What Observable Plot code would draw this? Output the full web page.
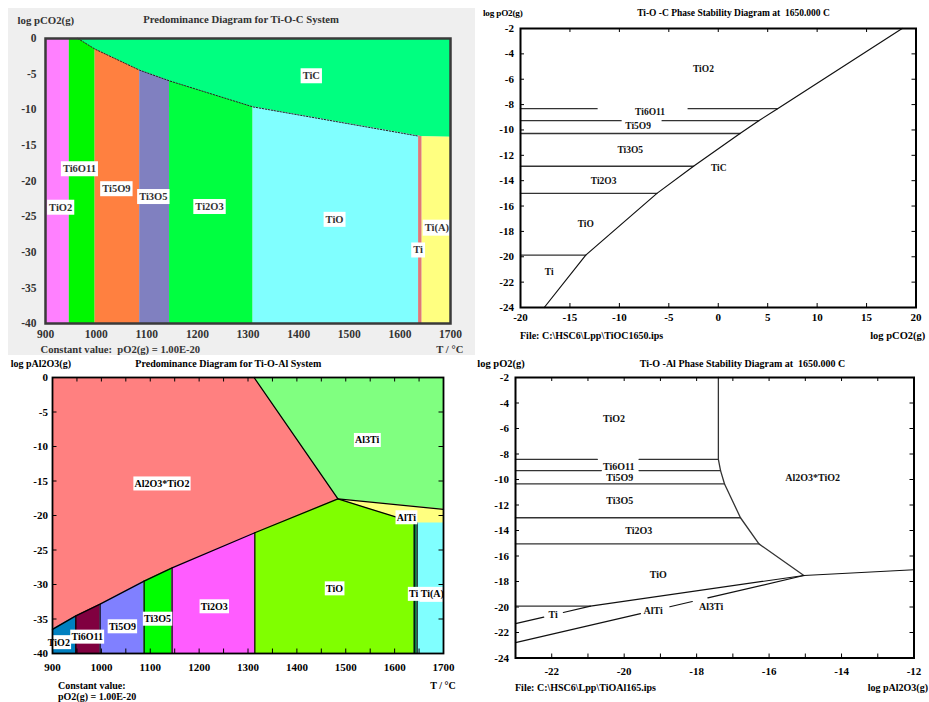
<!DOCTYPE html>
<html>
<head>
<meta charset="utf-8">
<script src="https://cdn.jsdelivr.net/npm/d3@7"></script>
<script src="https://cdn.jsdelivr.net/npm/@observablehq/plot@0.6"></script>
<style>
  body { margin: 0; background: #fff; }
  #page { position: relative; width: 929px; height: 702px; overflow: hidden;
          font-family: "Liberation Serif", "Times New Roman", serif; font-weight: bold; }
  #page .lbl { position: absolute; white-space: pre; line-height: 1; }
  #page svg { position: absolute; }
  #page svg text { font-family: "Liberation Serif", "Times New Roman", serif; font-weight: bold; }
</style>
</head>
<body>
<div id="page"></div>
<script>
// ===== Ti-O-C predominance diagram (log pCO2 vs T, pO2(g) = 1.00E-20) =====
const tocTickT = [900, 1000, 1100, 1200, 1300, 1400, 1500, 1600, 1700];
const tocTickLog = [0, -5, -10, -15, -20, -25, -30, -35, -40];
// lower edge of the TiC field
const ticEdgeT   = [900, 947, 964, 998, 1086, 1145, 1310, 1637, 1644, 1700];
const ticEdgeLog = [0, 0, 0, -1.5, -4.45, -5.95, -9.6, -13.7, -13.8, -13.85];
// condensed phases under the TiC field
const tocPhase     = ["TiO2", "Ti6O11", "Ti5O9", "Ti3O5", "Ti2O3", "TiO", "Ti", "Ti(A)"];
const tocPhaseFrom = [900, 947, 998, 1086, 1145, 1310, 1637, 1644];
const tocPhaseTo   = [947, 998, 1086, 1145, 1310, 1637, 1644, 1700];
const tocLabel    = ["TiO2", "Ti6O11", "Ti5O9", "Ti3O5", "Ti2O3", "TiO", "Ti(A)", "Ti", "TiC"];
const tocLabelT   = [930, 967, 1040, 1113, 1224, 1471, 1673, 1636, 1425];
const tocLabelLog = [-23.7, -18.3, -21.1, -22.2, -23.6, -25.4, -26.5, -29.7, -5.25];

// ===== Ti-O-C phase stability at 1650 C (log pO2 vs log pCO2) =====
const tocStabTickX = [-20, -15, -10, -5, 0, 5, 10, 15, 20];
const tocStabTickY = [-2, -4, -6, -8, -10, -12, -14, -16, -18, -20, -22, -24];
// TiC boundary
const ticLineX = [-17.6, -13.4, -6.2, -2.5, 2.2, 4.1, 6.0, 18.6];
const ticLineY = [-24, -19.87, -15.0, -12.86, -10.28, -9.27, -8.32, -2];
// oxide / oxide boundaries (log pO2), their right ends, and label breaks
const tocOxideY     = [-8.32, -9.27, -10.28, -12.86, -15.0, -19.87];
const tocOxideToX   = [6.0, 4.1, 2.2, -2.5, -6.2, -13.4];
const tocOxideGap   = [[[-12.25, -3.05]], [[-9.82, -5.68]], [], [], [], []];
const tocStabLabel  = ["TiO2", "Ti6O11", "Ti5O9", "Ti3O5", "TiC", "Ti2O3", "TiO", "Ti"];
const tocStabLabelX = [-1.5, -6.9, -8.1, -8.9, 0.05, -11.6, -13.4, -17.1];
const tocStabLabelY = [-5.2, -8.55, -9.72, -11.6, -12.96, -14.0, -17.4, -21.2];

// ===== Ti-O-Al predominance diagram (log pAl2O3 vs T, pO2(g) = 1.00E-20) =====
const toaTickT = [900, 1000, 1100, 1200, 1300, 1400, 1500, 1600, 1700];
const toaMinorT = [900, 950, 1000, 1050, 1100, 1150, 1200, 1250, 1300, 1350, 1400, 1450, 1500, 1550, 1600, 1650, 1700];
const toaTickLog = [0, -5, -10, -15, -20, -25, -30, -35, -40];
// lower edge of the Al2O3*TiO2 field
const spinelEdgeT   = [900, 947.7, 997.4, 1087.5, 1144.7, 1314, 1484];
const spinelEdgeLog = [-36.5, -34.55, -32.85, -29.5, -27.6, -22.5, -17.6];
// lower edge of the Al3Ti field
const al3TiEdgeT   = [1312.5, 1484, 1700];
const al3TiEdgeLog = [0, -17.6, -19.1];
// lower edge of the AlTi field
const alTiEdgeT   = [1484, 1640, 1646, 1700];
const alTiEdgeLog = [-17.6, -21.05, -21.1, -21.1];
const toaOxide     = ["TiO2", "Ti6O11", "Ti5O9", "Ti3O5", "Ti2O3"];
const toaOxideFrom = [900, 947.7, 997.4, 1087.5, 1144.7];
const toaOxideTo   = [947.7, 997.4, 1087.5, 1144.7, 1314];
const toaLabel    = ["Al2O3*TiO2", "Al3Ti", "AlTi", "TiO", "Ti2O3", "Ti3O5", "Ti5O9", "Ti6O11", "TiO2", "Ti", "Ti(A)"];
const toaLabelT   = [1124, 1544, 1624, 1477, 1231, 1115, 1043, 971, 913, 1639, 1677];
const toaLabelLog = [-15.4, -9.1, -20.3, -30.6, -33.2, -35.0, -36.1, -37.6, -38.4, -31.4, -31.4];

// ===== Ti-O-Al phase stability at 1650 C (log pO2 vs log pAl2O3) =====
const toaStabTickX = [-22, -20, -18, -16, -14, -12];
const toaStabMinorX = [-23, -22, -21, -20, -19, -18, -17, -16, -15, -14, -13, -12];
const toaStabTickY = [-2, -4, -6, -8, -10, -12, -14, -16, -18, -20, -22, -24];
// TiO2 / Al2O3*TiO2 boundary down to the triple point
const spinelLineX = [-17.4, -17.4, -17.34, -17.23, -16.79, -16.28, -15.04];
const spinelLineY = [-2, -8.42, -9.3, -10.35, -13.0, -15.05, -17.53];
// Al2O3*TiO2 / Al3Ti boundary right of the triple point
const al3TiLineX = [-15.04, -12];
const al3TiLineY = [-17.53, -17.08];
// Ti, TiO / AlTi boundary
const alTiLineX = [-23, -20.93, -15.04];
const alTiLineY = [-21.31, -19.93, -17.53];
const alTiLineGap = [[-22.22, -21.68]];
// AlTi / Al3Ti boundary
const alTiAl3TiX = [-23, -15.04];
const alTiAl3TiY = [-22.8, -17.53];
const alTiAl3TiGap = [[-19.55, -18.74], [-18.12, -17.69]];
// oxide / oxide boundaries (log pO2), right ends, label breaks
const toaOxideY    = [-8.42, -9.3, -10.35, -13.0, -15.05, -19.93];
const toaOxideToX  = [-17.4, -17.34, -17.23, -16.79, -16.28, -20.93];
const toaOxideGap  = [[[-20.74, -19.59]], [[-20.63, -19.59]], [], [], [], []];
const toaStabLabel  = ["TiO2", "Ti6O11", "Ti5O9", "Ti3O5", "Ti2O3", "Al2O3*TiO2", "TiO", "Ti", "AlTi", "Al3Ti"];
const toaStabLabelX = [-20.28, -20.15, -20.12, -20.12, -19.6, -14.8, -19.06, -21.96, -19.2, -17.6];
const toaStabLabelY = [-5.2, -8.97, -9.85, -11.66, -14.0, -9.85, -17.47, -20.6, -20.27, -19.96];

// ---------- styling ----------
const serif = '"Liberation Serif", "Times New Roman", serif';
const tocColors = ["#ff80ff", "#00f800", "#ff8040", "#8080c0", "#00ff40", "#80ffff", "#e07878", "#ffff80"];
const ticColor = "#00ff80";
const toaOxideColors = ["#0080c0", "#800040", "#8080ff", "#00ff00", "#ff5cff"];
const toaColor = {spinel: "#ff8080", al3Ti: "#80ff80", alTi: "#ffff80", tiO: "#80ff00", ti: "#008040", tiA: "#80ffff"};

const page = document.getElementById("page");
const W = 929;

// helpers
const pts = (xs, ys) => xs.map((T, i) => ({T, v: ys[i]}));
const within = (p, a, b) => p.filter(d => d.T >= a && d.T <= b);
const valueAt = (p, T) => p.find(d => d.T === T).v;
const labels = (names, xs, ys) => names.map((text, i) => ({text, x: xs[i], y: ys[i]}));

// split a polyline (monotonic in x) into drawn pieces, leaving breaks for labels
function pieces(xs, ys, gaps, id) {
  const yAt = x => {
    for (let i = 1; i < xs.length; i++) {
      const a = xs[i - 1], b = xs[i];
      if (a !== b && x >= Math.min(a, b) && x <= Math.max(a, b))
        return ys[i - 1] + (ys[i] - ys[i - 1]) * (x - a) / (b - a);
    }
    return ys[ys.length - 1];
  };
  const cuts = [Math.min(...xs), ...gaps.flat(), Math.max(...xs)];
  const out = [];
  for (let k = 0; k < cuts.length; k += 2) {
    const a = cuts[k], b = cuts[k + 1], z = id + "-" + k;
    out.push({x: a, y: yAt(a), z});
    xs.forEach((x, i) => { if (x > a && x < b) out.push({x, y: ys[i], z}); });
    out.push({x: b, y: yAt(b), z});
  }
  return out;
}

function text(str, x, y, {anchor = "start", size = 10, color = "#000", spacing = 0} = {}) {
  const d = document.createElement("div");
  d.className = "lbl";
  d.textContent = str;
  d.style.fontSize = size + "px";
  d.style.color = color;
  d.style.letterSpacing = spacing + "px";
  d.style.top = y + "px";
  if (anchor === "start") { d.style.left = x + "px"; d.style.transform = "translateY(-50%)"; }
  else if (anchor === "end") { d.style.right = (W - x) + "px"; d.style.transform = "translateY(-50%)"; }
  else { d.style.left = x + "px"; d.style.transform = "translate(-50%,-50%)"; }
  page.appendChild(d);
}

function place(svg, left, top) {
  svg.style.left = left + "px";
  svg.style.top = top + "px";
  page.appendChild(svg);
  return svg;
}

// white boxes behind field labels
function boxLabels(svg, padX, padY) {
  svg.querySelectorAll('g[aria-label="text"] text').forEach(t => {
    const b = t.getBBox();
    const r = document.createElementNS("http://www.w3.org/2000/svg", "rect");
    r.setAttribute("x", b.x - padX);
    r.setAttribute("y", b.y - padY);
    r.setAttribute("width", b.width + 2 * padX);
    r.setAttribute("height", b.height + 2 * padY);
    r.setAttribute("fill", "#fff");
    const tr = t.getAttribute("transform");
    if (tr) r.setAttribute("transform", tr);
    t.parentNode.insertBefore(r, t);
  });
}

const fmt = d => String(d);
const baseStyle = (size, color) => ({background: "transparent", overflow: "visible",
  fontFamily: serif, fontWeight: "bold", fontSize: size + "px", color});
const axisText = {fontFamily: serif, fontWeight: "bold"};

// inward tick marks on all four sides
function innerTicks(xt, yt, innerW, innerH, len) {
  return [
    Plot.ruleX(xt, {insetTop: innerH - len, strokeWidth: 1}),
    Plot.ruleX(xt, {insetBottom: innerH - len, strokeWidth: 1}),
    Plot.ruleY(yt, {insetRight: innerW - len, strokeWidth: 1}),
    Plot.ruleY(yt, {insetLeft: innerW - len, strokeWidth: 1})
  ];
}

// ---------- panel 1: Ti-O-C predominance ----------
const panelBg = document.createElement("div");
Object.assign(panelBg.style, {position: "absolute", left: "8px", top: "8px", width: "467px", height: "347px", background: "#efefef"});
page.appendChild(panelBg);

const ticEdge = pts(ticEdgeT, ticEdgeLog);
const p1 = Plot.plot({
  width: 470, height: 345,
  marginLeft: 45, marginRight: 20, marginTop: 38, marginBottom: 22,
  x: {domain: [900, 1700]},
  y: {domain: [-40, 0]},
  style: baseStyle(11.5, "#333"),
  marks: [
    Plot.area(ticEdge, {x1: "T", y1: "v", y2: 0, fill: ticColor}),
    ...tocPhase.map((name, i) =>
      Plot.area(within(ticEdge, tocPhaseFrom[i], tocPhaseTo[i]), {x1: "T", y1: -40, y2: "v", fill: tocColors[i]})),
    Plot.line(within(ticEdge, 964, 1637), {x: "T", y: "v", stroke: "#222", strokeWidth: 1, strokeDasharray: "1.5 1.5"}),
    Plot.text(labels(tocLabel, tocLabelT, tocLabelLog), {x: "x", y: "y", text: "text", fontSize: 10.5, fill: "#333", ...axisText}),
    Plot.axisX(tocTickT, {tickSize: 0, tickPadding: 6, tickFormat: fmt, label: null, ...axisText}),
    Plot.axisY(tocTickLog, {tickSize: 0, tickPadding: 9, tickFormat: fmt, label: null, ...axisText}),
    Plot.frame({stroke: "#3a3a3a", strokeWidth: 2.5})
  ]
});
place(p1, 0, 0);
boxLabels(p1, 2, 2);

text("log pCO2(g)", 17.5, 19.5, {size: 10.8, color: "#333"});
text("Predominance Diagram for Ti-O-C System", 241, 19, {anchor: "middle", size: 10.7, color: "#333"});
text("Constant value:  pO2(g) = 1.00E-20", 40.5, 349.5, {size: 10.6, color: "#333"});
text("T / °C", 463.3, 349.5, {anchor: "end", size: 10.6, color: "#333"});

// ---------- panel 2: Ti-O-C stability at 1650 C ----------
const tocOxideLines = tocOxideY.flatMap((y, i) => pieces([-20, tocOxideToX[i]], [y, y], tocOxideGap[i], "o" + i));
const p2 = Plot.plot({
  width: 459, height: 345,
  marginLeft: 50, marginRight: 13.5, marginTop: 28, marginBottom: 38,
  x: {domain: [-20, 20]},
  y: {domain: [-24, -2]},
  style: baseStyle(11, "#000"),
  marks: [
    ...innerTicks(tocStabTickX, tocStabTickY, 395.5, 279, 4),
    Plot.line(tocOxideLines, {x: "x", y: "y", z: "z", stroke: "#333", strokeWidth: 1.3}),
    Plot.line(ticLineX.map((x, i) => ({x, y: ticLineY[i]})), {x: "x", y: "y", stroke: "#111", strokeWidth: 1.2}),
    Plot.text(labels(tocStabLabel, tocStabLabelX, tocStabLabelY), {x: "x", y: "y", text: "text", fontSize: 9.5, fill: "#111", ...axisText}),
    Plot.axisX(tocStabTickX, {tickSize: 0, tickPadding: 6, tickFormat: fmt, label: null, ...axisText}),
    Plot.axisY(tocStabTickY, {tickSize: 0, tickPadding: 6.5, tickFormat: fmt, label: null, ...axisText}),
    Plot.frame({stroke: "#000", strokeWidth: 2})
  ]
});
place(p2, 470, 0);

text("log pO2(g)", 483, 14, {size: 9.2, spacing: -0.2});
text("Ti-O -C Phase Stability Diagram at  1650.000 C", 733.5, 14, {anchor: "middle", size: 9.5});
text("File: C:\\HSC6\\Lpp\\TiOC1650.ips", 520, 336, {size: 10});
text("log pCO2(g)", 925.3, 336, {anchor: "end", size: 10.5});

// ---------- panel 3: Ti-O-Al predominance ----------
const spinelEdge = pts(spinelEdgeT, spinelEdgeLog);
const al3TiEdge = pts(al3TiEdgeT, al3TiEdgeLog);
const alTiEdge = pts(alTiEdgeT, alTiEdgeLog);
const tiOTop = [...within(spinelEdge, 1314, 1484), ...within(alTiEdge, 1485, 1640)];
const oxideDividers = toaOxideFrom.slice(1).concat([1314]).map(T => ({T, v: valueAt(spinelEdge, T)}));
const metalDividers = [1640, 1646].map(T => ({T, v: valueAt(alTiEdge, T)}));

const p3 = Plot.plot({
  width: 470, height: 347,
  marginLeft: 52, marginRight: 27, marginTop: 22, marginBottom: 49,
  x: {domain: [900, 1700]},
  y: {domain: [-40, 0]},
  style: baseStyle(11, "#000"),
  marks: [
    Plot.frame({fill: toaColor.spinel}),
    Plot.area(al3TiEdge, {x1: "T", y1: "v", y2: 0, fill: toaColor.al3Ti}),
    Plot.area(within(al3TiEdge, 1484, 1700), {x1: "T", y1: -40, y2: "v", fill: toaColor.alTi}),
    Plot.area(tiOTop, {x1: "T", y1: -40, y2: "v", fill: toaColor.tiO}),
    Plot.area(within(alTiEdge, 1640, 1646), {x1: "T", y1: -40, y2: "v", fill: toaColor.ti}),
    Plot.area(within(alTiEdge, 1646, 1700), {x1: "T", y1: -40, y2: "v", fill: toaColor.tiA}),
    ...toaOxide.map((name, i) =>
      Plot.area(within(spinelEdge, toaOxideFrom[i], toaOxideTo[i]), {x1: "T", y1: -40, y2: "v", fill: toaOxideColors[i]})),
    Plot.line(spinelEdge, {x: "T", y: "v", stroke: "#000", strokeWidth: 1.3}),
    Plot.line(al3TiEdge, {x: "T", y: "v", stroke: "#000", strokeWidth: 1.3}),
    Plot.line(within(alTiEdge, 1484, 1640), {x: "T", y: "v", stroke: "#000", strokeWidth: 1.3}),
    Plot.ruleX(oxideDividers, {x: "T", y1: -40, y2: "v", stroke: "#000", strokeWidth: 1.2}),
    Plot.ruleX(metalDividers, {x: "T", y1: -40, y2: "v", stroke: "#000", strokeWidth: 1.2}),
    ...innerTicks(toaMinorT, toaTickLog, 391, 276, 4.5),
    Plot.text(labels(toaLabel, toaLabelT, toaLabelLog), {x: "x", y: "y", text: "text", fontSize: 10, fill: "#000", ...axisText}),
    Plot.axisX(toaTickT, {tickSize: 0, tickPadding: 10, tickFormat: fmt, label: null, ...axisText}),
    Plot.axisY(toaTickLog, {tickSize: 0, tickPadding: 4.5, tickFormat: fmt, label: null, ...axisText}),
    Plot.frame({stroke: "#000", strokeWidth: 1.8})
  ]
});
place(p3, 0, 355);
boxLabels(p3, 1.2, 1.5);

text("log pAl2O3(g)", 10.7, 364, {size: 10});
text("Predominance Diagram for Ti-O-Al System", 228.3, 364.3, {anchor: "middle", size: 10});
text("Constant value:", 58, 685.7, {size: 10});
text("pO2(g) = 1.00E-20", 58, 697, {size: 10});
text("T / °C", 455.7, 685.7, {anchor: "end", size: 10});

// ---------- panel 4: Ti-O-Al stability at 1650 C ----------
const toaOxideLines = toaOxideY.flatMap((y, i) => pieces([-23, toaOxideToX[i]], [y, y], toaOxideGap[i], "o" + i));
const alLines = [
  ...pieces(alTiLineX, alTiLineY, alTiLineGap, "ti"),
  ...pieces(alTiAl3TiX, alTiAl3TiY, alTiAl3TiGap, "al"),
  ...pieces(al3TiLineX, al3TiLineY, [], "a3")
];
const p4 = Plot.plot({
  width: 459, height: 347,
  marginLeft: 45, marginRight: 15.5, marginTop: 22, marginBottom: 44.5,
  x: {domain: [-23, -12]},
  y: {domain: [-24, -2]},
  style: baseStyle(11, "#000"),
  marks: [
    ...innerTicks(toaStabMinorX, toaStabTickY, 398.5, 280.5, 4),
    Plot.line(toaOxideLines, {x: "x", y: "y", z: "z", stroke: "#333", strokeWidth: 1.3}),
    Plot.line(spinelLineX.map((x, i) => ({x, y: spinelLineY[i]})), {x: "x", y: "y", stroke: "#333", strokeWidth: 1.3}),
    Plot.line(alLines, {x: "x", y: "y", z: "z", stroke: "#111", strokeWidth: 1.2}),
    Plot.text(labels(toaStabLabel, toaStabLabelX, toaStabLabelY), {x: "x", y: "y", text: "text", fontSize: 10, fill: "#111", ...axisText}),
    Plot.axisX(toaStabTickX, {tickSize: 0, tickPadding: 9, tickFormat: fmt, label: null, ...axisText}),
    Plot.axisY(toaStabTickY, {tickSize: 0, tickPadding: 6.5, tickFormat: fmt, label: null, ...axisText}),
    Plot.frame({stroke: "#000", strokeWidth: 2})
  ]
});
place(p4, 470, 355);

text("log pO2(g)", 477.3, 364.3, {size: 10.5});
text("Ti-O -Al Phase Stability Diagram at  1650.000 C", 742.5, 364.3, {anchor: "middle", size: 10});
text("File: C:\\HSC6\\Lpp\\TiOAl165.ips", 515, 687.7, {size: 10});
text("log pAl2O3(g)", 928, 688, {anchor: "end", size: 10});
</script>
</body>
</html>
